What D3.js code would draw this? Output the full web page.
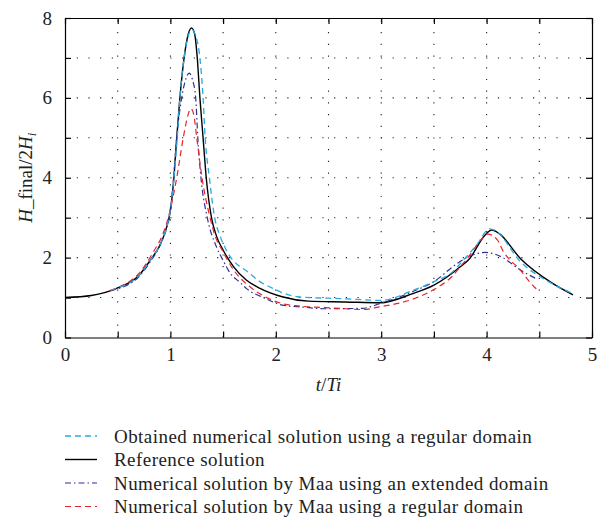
<!DOCTYPE html>
<html>
<head>
<meta charset="utf-8">
<script src="https://cdn.jsdelivr.net/npm/d3@7"></script>
<style>
body { margin: 0; background: #fff; }
svg { display: block; font-family: "Liberation Serif", "Times New Roman", serif; }
</style>
</head>
<body>
<script>
// t/Ti, H_final/2H_i
var refData = [[0,1.0],[0.25,1.05],[0.5,1.24],[0.7,1.55],[0.81,1.94],[0.9,2.31],[0.965,2.77],[1.0,3.19],[1.03,3.9],[1.06,5.0],[1.09,6.0],[1.13,7.0],[1.17,7.6],[1.2,7.75],[1.23,7.6],[1.255,7.0],[1.28,6.0],[1.31,5.0],[1.34,4.0],[1.39,3.0],[1.44,2.52],[1.5,2.19],[1.6,1.77],[1.72,1.44],[1.85,1.23],[2.06,1.02],[2.31,0.91],[2.66,0.89],[2.99,0.87],[3.3,1.1],[3.5,1.31],[3.75,1.77],[3.84,1.98],[3.98,2.55],[4.05,2.69],[4.12,2.6],[4.32,1.98],[4.63,1.35],[4.82,1.07]];
var obtainedData = [[0.43,1.19],[0.5,1.24],[0.7,1.55],[0.81,1.94],[0.9,2.31],[0.965,2.77],[1.0,3.19],[1.03,3.9],[1.065,5.0],[1.09,6.0],[1.13,7.0],[1.17,7.55],[1.2,7.72],[1.24,7.55],[1.28,7.0],[1.31,6.0],[1.33,5.0],[1.37,4.0],[1.42,3.0],[1.47,2.55],[1.53,2.19],[1.755,1.6],[1.85,1.4],[1.94,1.27],[2.21,1.02],[2.66,0.97],[3.0,0.93],[3.3,1.18],[3.5,1.4],[3.68,1.65],[3.75,1.85],[3.9,2.3],[4.03,2.72],[4.08,2.68],[4.32,1.9],[4.6,1.38],[4.82,1.1]];
var maaExtData = [[0.43,1.17],[0.5,1.22],[0.7,1.52],[0.81,1.9],[0.9,2.3],[0.965,2.75],[1.0,3.15],[1.03,4.0],[1.06,5.0],[1.107,6.0],[1.15,6.5],[1.177,6.62],[1.21,6.45],[1.24,6.0],[1.26,5.0],[1.29,4.0],[1.35,3.0],[1.44,2.25],[1.5,1.93],[1.565,1.62],[1.66,1.38],[1.72,1.23],[1.9,0.98],[2.06,0.81],[2.26,0.76],[2.47,0.72],[2.82,0.73],[2.99,0.85],[3.3,1.15],[3.5,1.4],[3.72,1.85],[3.86,2.06],[3.99,2.13],[4.14,2.02],[4.32,1.69],[4.48,1.46]];
var maaRegData = [[0.43,1.17],[0.5,1.25],[0.7,1.6],[0.84,2.15],[0.93,2.6],[0.99,3.1],[1.06,4.0],[1.122,5.0],[1.17,5.6],[1.195,5.73],[1.22,5.6],[1.25,5.0],[1.3,4.0],[1.376,3.0],[1.43,2.5],[1.49,2.19],[1.6,1.69],[1.755,1.27],[1.9,1.02],[2.06,0.85],[2.21,0.79],[2.47,0.75],[2.66,0.72],[2.82,0.7],[2.99,0.77],[3.3,0.96],[3.5,1.2],[3.68,1.55],[3.75,1.77],[3.84,2.06],[3.94,2.43],[4.01,2.59],[4.1,2.45],[4.16,2.15],[4.32,1.69],[4.45,1.27],[4.48,1.2]];

var xTicks = [0, 0.5, 1, 1.5, 2, 2.5, 3, 3.5, 4, 4.5, 5];
var yTicks = [0, 1, 2, 3, 4, 5, 6, 7, 8];
var legendLabels = [
	"Obtained numerical solution using a regular domain",
	"Reference solution",
	"Numerical solution by Maa using an extended domain",
	"Numerical solution by Maa using a regular domain"
];

var W = 605, H = 531;
var m = {left: 65, right: 13, top: 18, bottom: 193.5};
var FONT = "Liberation Serif, Times New Roman, serif";

var svg = d3.select("body").append("svg").attr("width", W).attr("height", H);

var x = d3.scaleLinear().domain([0, 5]).range([m.left, W - m.right]);
var y = d3.scaleLinear().domain([0, 8]).range([H - m.bottom, m.top]);

// dotted grid
svg.append("g").selectAll("line").data(xTicks.slice(1, -1)).enter().append("line")
	.attr("x1", function(d){ return x(d); }).attr("x2", function(d){ return x(d); })
	.attr("y1", y(0)).attr("y2", y(8))
	.attr("stroke", "#222").attr("stroke-width", 1.1).attr("stroke-dasharray", "1.2,10.5");
svg.append("g").selectAll("line").data(yTicks.slice(1, -1)).enter().append("line")
	.attr("y1", function(d){ return y(d); }).attr("y2", function(d){ return y(d); })
	.attr("x1", x(0)).attr("x2", x(5))
	.attr("stroke", "#222").attr("stroke-width", 1.1).attr("stroke-dasharray", "1.2,10.5");

// axes, ticks inward on all sides
function styleAxis(g){
	g.selectAll("path").attr("stroke", "#000").attr("stroke-width", 1.2);
	g.selectAll("line").attr("stroke", "#000").attr("stroke-width", 1.2);
	g.selectAll("text").attr("font-size", 19).attr("fill", "#222").attr("font-family", FONT);
}
svg.append("g").attr("transform", "translate(0," + y(0) + ")")
	.call(d3.axisBottom(x).tickValues(xTicks).tickSize(-6).tickSizeOuter(0).tickPadding(10)
		.tickFormat(function(d){ return d % 1 === 0 ? d : ""; }))
	.call(styleAxis);
svg.append("g").attr("transform", "translate(0," + y(8) + ")")
	.call(d3.axisTop(x).tickValues(xTicks).tickSize(-6).tickSizeOuter(0).tickFormat(""))
	.call(styleAxis);
svg.append("g").attr("transform", "translate(" + x(0) + ",0)")
	.call(d3.axisLeft(y).tickValues(yTicks).tickSize(-6).tickSizeOuter(0).tickPadding(13)
		.tickFormat(function(d){ return d % 2 === 0 ? d : ""; }))
	.call(styleAxis);
svg.append("g").attr("transform", "translate(" + x(5) + ",0)")
	.call(d3.axisRight(y).tickValues(yTicks).tickSize(-6).tickSizeOuter(0).tickFormat(""))
	.call(styleAxis);

// curves
var line = d3.line()
	.x(function(d){ return x(d[0]); })
	.y(function(d){ return y(d[1]); })
	.curve(d3.curveMonotoneX);

var series = [
	{data: obtainedData, color: "#2aa9e0", dash: "6,4", width: 1.3},
	{data: refData, color: "#000000", dash: null, width: 1.4},
	{data: maaExtData, color: "#2e3192", dash: "6,3,1.5,3", width: 1.2},
	{data: maaRegData, color: "#e8232b", dash: "6,4", width: 1.2}
];
// reference first so dashed ones sit on top
[1, 2, 3, 0].forEach(function(i){
	var s = series[i];
	svg.append("path").datum(s.data)
		.attr("d", line)
		.attr("fill", "none")
		.attr("stroke", s.color)
		.attr("stroke-width", s.width)
		.attr("stroke-dasharray", s.dash);
});

// axis titles
svg.append("text")
	.attr("x", (x(0) + x(5)) / 2).attr("y", 391)
	.attr("text-anchor", "middle").attr("font-size", 19).attr("fill", "#222")
	.html('<tspan font-style="italic">t</tspan>/<tspan font-style="italic">Ti</tspan>');

svg.append("text")
	.attr("transform", "translate(32," + ((y(0) + y(8)) / 2) + ") rotate(-90)")
	.attr("text-anchor", "middle").attr("font-size", 19).attr("fill", "#222")
	.html('<tspan font-style="italic">H</tspan>_final/2<tspan font-style="italic">H</tspan><tspan font-style="italic" font-size="13" dy="4">i</tspan>');

// legend
var lg = svg.append("g");
legendLabels.forEach(function(label, i){
	var s = series[i];
	var ly = 436 + i * 23.5;
	lg.append("line")
		.attr("x1", 65).attr("x2", 97).attr("y1", ly).attr("y2", ly)
		.attr("stroke", s.color).attr("stroke-width", s.width)
		.attr("stroke-dasharray", s.dash);
	lg.append("text")
		.attr("x", 114).attr("y", ly).attr("dy", "0.35em")
		.attr("font-size", 19).attr("letter-spacing", 0.45).attr("fill", "#222")
		.text(label);
});
</script>
</body>
</html>
